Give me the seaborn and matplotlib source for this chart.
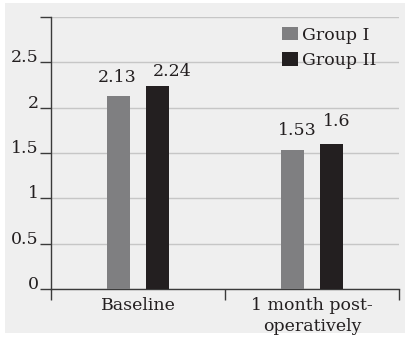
import pandas as pd
import numpy as np
import matplotlib.pyplot as plt
import seaborn as sns
from matplotlib.patches import Rectangle

# values
periods = ["Baseline", "1 month post-\noperatively"]
groups = ["Group I", "Group II"]
group1 = [2.13, 1.53]
group2 = [2.24, 1.60]
value_labels = [["2.13", "1.53"], ["2.24", "1.6"]]
yticks = [0, 0.5, 1, 1.5, 2, 2.5, 3]
ytick_labels = ["0", "0.5", "1", "1.5", "2", "2.5", ""]

df = pd.DataFrame({
    "period": periods * 2,
    "group": [groups[0]] * 2 + [groups[1]] * 2,
    "score": group1 + group2,
})

sns.set_style("white")
plt.rcParams["font.family"] = ["DejaVu Serif"]
plt.rcParams["text.color"] = "#231f20"
fs = 12.5

fig = plt.figure(figsize=(4.06, 3.38), dpi=100, facecolor="white")
fig.patches.append(Rectangle((5 / 406, 5 / 338), 401 / 406, 330 / 338,
                             transform=fig.transFigure, facecolor="#efefef",
                             edgecolor="none", zorder=-10))
ax = fig.add_axes([51 / 406, 49 / 338, 348 / 406, 272 / 338])
ax.set_facecolor("none")

sns.barplot(data=df, x="period", y="score", hue="group", order=periods,
            hue_order=groups, palette=["#7f7f81", "#231f20"],
            width=0.44, gap=0.4, ax=ax, saturation=1, zorder=3,
            edgecolor="none", linewidth=0)

# value labels above bars (label nudges as in the original, in points)
nudges = [[(-1, 7), (3, 8)], [(11, 4), (4, 10)]]
for cont, labs, nd in zip(ax.containers, value_labels, nudges):
    for bar, lab, (dx, dy) in zip(cont, labs, nd):
        ax.annotate(lab, (bar.get_x() + bar.get_width() / 2, bar.get_height()),
                    xytext=(dx, dy), textcoords="offset points",
                    ha="center", va="bottom", fontsize=fs, color="#231f20")

ax.set_xlim(-0.5, 1.5)
ax.set_ylim(0, 3)
ax.set_yticks(yticks)
ax.set_yticklabels(ytick_labels, fontsize=fs, va="baseline")
ax.tick_params(axis="y", left=True, direction="out", length=8, width=1,
               color="#3a3a3a", pad=1, labelcolor="#231f20")
ax.set_xticks([0, 1])
ax.set_xticklabels(periods, fontsize=fs, linespacing=1.25)
ax.set_xticks([-0.5, 0.5, 1.5], minor=True)
ax.tick_params(axis="x", which="major", bottom=False, length=0, pad=6,
               labelcolor="#231f20")
ax.tick_params(axis="x", which="minor", bottom=True, direction="out",
               length=8, width=1, color="#3a3a3a")
ax.grid(axis="y", color="#c6c6c6", linewidth=1, zorder=0)
ax.set_axisbelow(True)

for s in ["top", "right"]:
    ax.spines[s].set_visible(False)
for s in ["left", "bottom"]:
    ax.spines[s].set_color("#3a3a3a")
    ax.spines[s].set_linewidth(1)

ax.set_xlabel("")
ax.set_ylabel("")
ax.legend(loc="upper left", bbox_to_anchor=(0.665, 0.965), frameon=False,
          fontsize=fs, handlelength=0.9, handleheight=0.85, handletextpad=0.2,
          labelspacing=0.5, borderpad=0, borderaxespad=0)

fig.savefig("out.png", dpi=100, facecolor="white")
